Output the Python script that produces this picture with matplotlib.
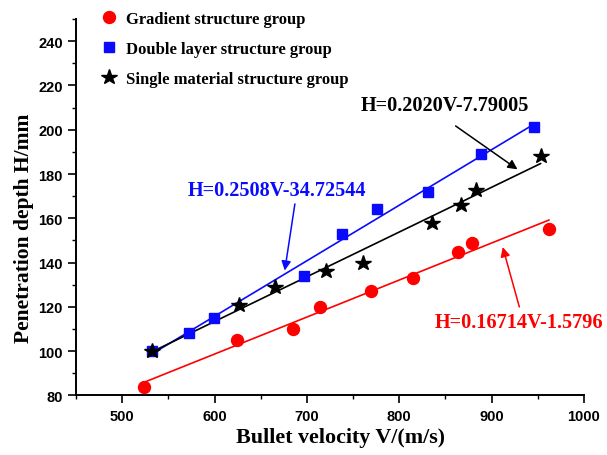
import matplotlib
matplotlib.use("Agg")
import matplotlib.pyplot as plt
import numpy as np
from matplotlib.ticker import MultipleLocator

# measured points: bullet velocity (m/s) vs penetration depth (mm)
grad_v = [524, 624, 685, 714, 769, 815, 864, 879, 962]
grad_h = [84, 105, 110, 120, 127, 133, 145, 149, 155]

dbl_v = [532, 572, 599, 697, 738, 776, 831, 888, 946]
dbl_h = [100, 108, 115, 134, 153, 164, 172, 189, 201]

sgl_v = [532, 627, 665, 721, 761, 835, 867, 883, 953]
sgl_h = [100, 121, 129, 136, 140, 158, 166, 173, 188]

# linear fits  H = k*V + b
grad_fit = (0.16714, -1.5796)
dbl_fit = (0.2508, -34.72544)
sgl_fit = (0.2020, -7.79005)

serif = "Liberation Serif"
sans = "Liberation Sans"
BLUE = "#0a0aff"

fig = plt.figure(figsize=(6.07, 4.56), dpi=100)
ax = fig.add_axes([0.1252, 0.1305, 0.8369, 0.8257])


def fit_line(v, k, b, color):
    xs = np.array([min(v), max(v)])
    ax.plot(xs, k * xs + b, color=color, lw=1.2, zorder=2)


fit_line(grad_v, *grad_fit, "red")
fit_line(dbl_v, *dbl_fit, BLUE)
fit_line(sgl_v, *sgl_fit, "black")

ax.plot(grad_v, grad_h, "o", color="red", ms=8.6, ls="none", zorder=3,
        label="Gradient structure group")
ax.plot(dbl_v, dbl_h, "s", color=BLUE, ms=7.4, ls="none", zorder=3,
        label="Double layer structure group")
ax.plot(sgl_v, sgl_h, "*", color="black", ms=11.5, ls="none", zorder=4,
        label="Single material structure group")

ax.set_xlim(450, 1000)
ax.set_ylim(80, 250)
ax.xaxis.set_major_locator(MultipleLocator(100))
ax.xaxis.set_minor_locator(MultipleLocator(50))
ax.yaxis.set_major_locator(MultipleLocator(20))
ax.yaxis.set_minor_locator(MultipleLocator(10))
ax.spines["top"].set_visible(False)
ax.spines["right"].set_visible(False)
for s in ("left", "bottom"):
    ax.spines[s].set_linewidth(1.4)
ax.tick_params(which="major", direction="out", length=5.5, width=1.2, pad=4)
ax.tick_params(which="minor", direction="out", length=3.2, width=1.0)
for lab in ax.get_xticklabels() + ax.get_yticklabels():
    lab.set_fontfamily(sans)
    lab.set_fontweight("bold")
    lab.set_fontsize(10.5)

ax.set_xlabel("Bullet velocity V/(m/s)", family=serif, weight="bold",
              fontsize=15.8)
ax.set_ylabel("Penetration depth H/mm", family=serif, weight="bold",
              fontsize=15.5)
ax.xaxis.set_label_coords(0.52, -0.084)
ax.yaxis.set_label_coords(-0.082, 0.4475)

ax.legend(loc="upper left", bbox_to_anchor=(0.035, 1.04), frameon=False,
          prop={"family": serif, "weight": "bold", "size": 12},
          handletextpad=0.56, labelspacing=0.86, handlelength=1.0,
          borderaxespad=0)

# fit equations, each with an arrow pointing at its line
eq_style = dict(family=serif, weight="bold", fontsize=14.6,
                ha="center", va="center", clip_on=False)


def arrow(tail, head, color):
    ax.annotate("", xy=head, xytext=tail, annotation_clip=False,
                arrowprops=dict(arrowstyle="-|>", color=color, lw=1.1,
                                mutation_scale=14, shrinkA=0, shrinkB=0))


ax.text(849, 211.1, "H=0.2020V-7.79005", color="black", **eq_style)
arrow((861, 201.7), (928, 182.1), "black")

ax.text(668, 172.9, "H=0.2508V-34.72544", color=BLUE, **eq_style)
arrow((687, 166.5), (676, 136.4), BLUE)

ax.text(930, 113, "H=0.16714V-1.5796", color="red", **eq_style)
arrow((930, 120), (912, 147), "red")

fig.savefig("out.png", dpi=100)
